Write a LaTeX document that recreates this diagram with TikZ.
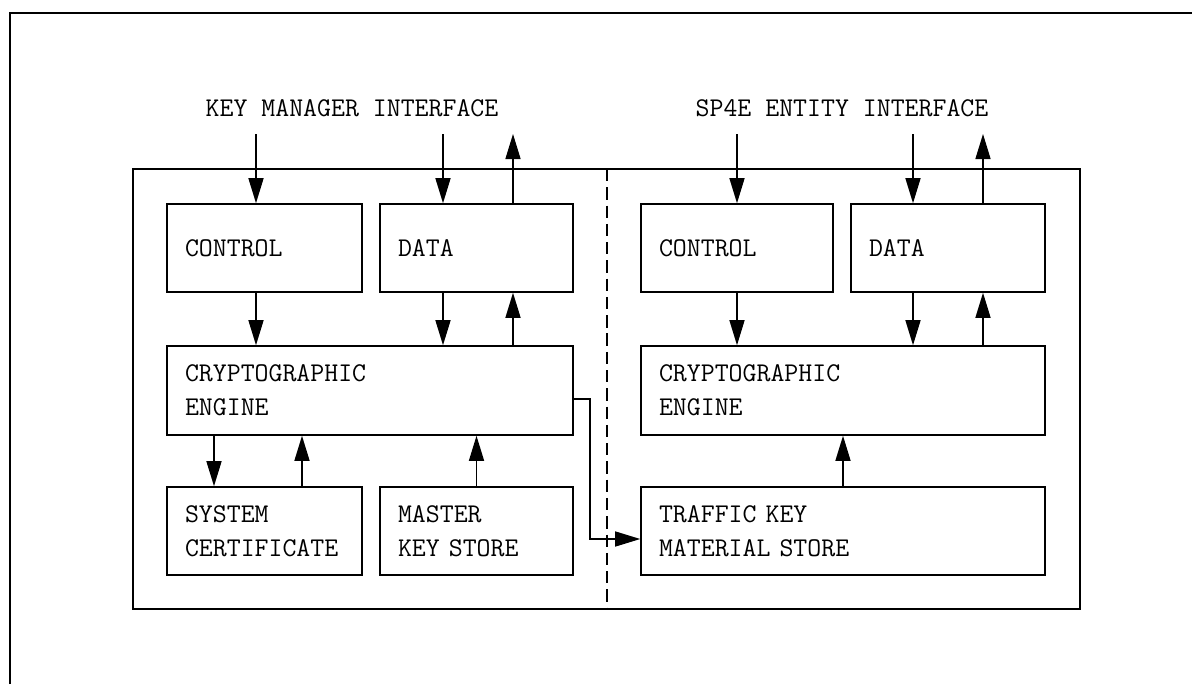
\documentclass[tikz,border=0pt]{standalone}
\usepackage{fontspec}
\usetikzlibrary{arrows.meta}

\begin{document}
\begin{tikzpicture}[
    font=\fontsize{15.4}{19.3}\selectfont\ttfamily,
    blk/.style={draw, line width=0.9pt, align=left, inner xsep=0.36cm, minimum height=1.76cm},
    arr/.style={-{Triangle[length=0.5cm, width=0.3cm]}, line width=0.8pt}]
  \useasboundingbox (0,0) rectangle (23.84,-13.68);

  % Page frame
  \draw[line width=1pt] (0.2,-13.68) -- (0.2,-0.26) -- (23.84,-0.26);

  % Interface labels
  \node (kmif) at (7.04,-2.16) {KEY MANAGER INTERFACE};
  \node (seif) at (16.84,-2.16) {SP4E ENTITY INTERFACE};
  \coordinate (top) at (0,-2.68);

  % Unit outline and partition
  \draw[line width=0.9pt] (2.66,-3.38) rectangle (21.60,-12.18);
  \draw[line width=0.8pt, dash pattern=on 7pt off 3.4pt] (12.14,-3.38) -- (12.14,-12.18);

  % Key manager side
  \node[blk, text width=3.18cm] (kmctrl) at (5.29,-4.96) {CONTROL};
  \node[blk, text width=3.14cm] (kmdata) at (9.53,-4.96) {DATA};
  \node[blk, text width=7.40cm, minimum height=1.78cm] (kmcrypto) at (7.40,-7.81) {CRYPTOGRAPHIC\\ENGINE};
  \node[blk, text width=3.18cm] (cert) at (5.29,-10.62) {SYSTEM\\CERTIFICATE};
  \node[blk, text width=3.14cm] (master) at (9.53,-10.62) {MASTER\\KEY STORE};

  % SP4E entity side
  \node[blk, text width=3.12cm] (sectrl) at (14.74,-4.96) {CONTROL};
  \node[blk, text width=3.16cm] (sedata) at (18.96,-4.96) {DATA};
  \node[blk, text width=7.36cm, minimum height=1.78cm] (secrypto) at (16.86,-7.81) {CRYPTOGRAPHIC\\ENGINE};
  \node[blk, text width=7.36cm] (traffic) at (16.86,-10.62) {TRAFFIC KEY\\MATERIAL STORE};

  % Interface arrows
  \draw[arr] ([xshift=-0.17cm]kmctrl.north |- top) -- ([xshift=-0.17cm]kmctrl.north);
  \draw[arr] ([xshift=-0.67cm]kmdata.north |- top) -- ([xshift=-0.67cm]kmdata.north);
  \draw[arr] ([xshift=0.73cm]kmdata.north) -- ([xshift=0.73cm]kmdata.north |- top);
  \draw[arr] (sectrl.north |- top) -- (sectrl.north);
  \draw[arr] ([xshift=-0.70cm]sedata.north |- top) -- ([xshift=-0.70cm]sedata.north);
  \draw[arr] ([xshift=0.70cm]sedata.north) -- ([xshift=0.70cm]sedata.north |- top);

  % Key manager flows
  \draw[arr] ([xshift=-0.17cm]kmctrl.south) -- ([xshift=-0.17cm]kmctrl.south |- kmcrypto.north);
  \draw[arr] ([xshift=-0.67cm]kmdata.south) -- ([xshift=-0.67cm]kmdata.south |- kmcrypto.north);
  \draw[arr] ([xshift=0.73cm]kmdata.south |- kmcrypto.north) -- ([xshift=0.73cm]kmdata.south);
  \draw[arr] ([xshift=-1.01cm]cert.north |- kmcrypto.south) -- ([xshift=-1.01cm]cert.north);
  \draw[arr] ([xshift=0.75cm]cert.north) -- ([xshift=0.75cm]cert.north |- kmcrypto.south);
  \draw[arr] (master.north) -- (master.north |- kmcrypto.south);

  % SP4E entity flows
  \draw[arr] (sectrl.south) -- (sectrl.south |- secrypto.north);
  \draw[arr] ([xshift=-0.70cm]sedata.south) -- ([xshift=-0.70cm]sedata.south |- secrypto.north);
  \draw[arr] ([xshift=0.70cm]sedata.south |- secrypto.north) -- ([xshift=0.70cm]sedata.south);
  \draw[arr] (traffic.north) -- (secrypto.south);

  % Traffic key transfer
  \draw[arr] ([yshift=-0.17cm]kmcrypto.east) -- ++(0.32,0) |- ([yshift=-0.16cm]traffic.west);
\end{tikzpicture}
\end{document}
